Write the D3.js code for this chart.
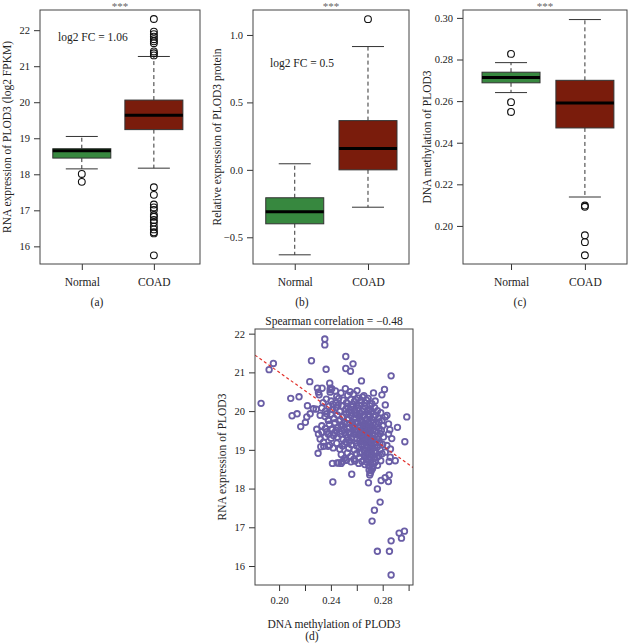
<!DOCTYPE html>
<html><head><meta charset="utf-8">
<script src="https://cdn.jsdelivr.net/npm/d3@7"></script>
<style>
body{margin:0;background:#fff}
svg{display:block}
text{font-family:"Liberation Serif","Times New Roman",serif;fill:#222}
</style>
</head><body>
<svg id="c" width="628" height="643"></svg>
<script>
// ---------------- DATA ----------------
const groups = ["Normal", "COAD"];

// (a) RNA expression of PLOD3 (log2 FPKM)
const rnaTicks = [16, 17, 18, 19, 20, 21, 22];
const rnaStats = [
  {lo: 18.15, q1: 18.45, med: 18.65, q3: 18.71, hi: 19.05},
  {lo: 18.17, q1: 19.24, med: 19.64, q3: 20.06, hi: 21.27}
];
const rnaOutNormal = [18.01, 17.79];
const rnaOutCOAD = [22.31, 21.96, 21.89, 21.82, 21.75, 21.69, 21.64, 21.41, 21.36, 21.30,
  17.64, 17.43, 17.16, 17.08, 17.01, 16.87, 16.82, 16.73, 16.66, 16.55, 16.47, 16.39, 16.36, 15.75];
const rnaFC = "log2 FC = 1.06";

// (b) Relative expression of PLOD3 protein
const protTicks = [-0.5, 0.0, 0.5, 1.0];
const protStats = [
  {lo: -0.63, q1: -0.40, med: -0.31, q3: -0.207, hi: 0.045},
  {lo: -0.277, q1: 0.0, med: 0.158, q3: 0.365, hi: 0.914}
];
const protOutNormal = [];
const protOutCOAD = [1.117];
const protFC = "log2 FC = 0.5";

// (c) DNA methylation of PLOD3
const methTicks = [0.20, 0.22, 0.24, 0.26, 0.28, 0.30];
const methStats = [
  {lo: 0.2641, q1: 0.2688, med: 0.2713, q3: 0.2739, hi: 0.2785},
  {lo: 0.2139, q1: 0.2471, med: 0.2591, q3: 0.2700, hi: 0.2992}
];
const methOutNormal = [0.2827, 0.2595, 0.2548];
const methOutCOAD = [0.2098, 0.2092, 0.1955, 0.1922, 0.1859];

// (d) scatter: DNA methylation vs RNA expression
const scatXTicks = [0.20, 0.22, 0.24, 0.26, 0.28, 0.30];
const scatXLabels = [0.20, 0.24, 0.28];
const scatYTicks = [16, 17, 18, 19, 20, 21, 22];
const spearmanText = "Spearman correlation = \u22120.48";
const fitIntercept = 25.757;
const fitSlope = -23.77;
const scatterPoints = [
  [0.1861,20.20],[0.1923,21.07],[0.1956,21.23],[0.2090,20.33],[0.2100,19.88],[0.2154,20.37],[0.2139,19.93],
  [0.2167,19.60],[0.2203,19.71],[0.2214,19.85],[0.2219,20.14],[0.2237,20.76],[0.2250,21.30],[0.2286,20.05],
  [0.2296,20.59],[0.2309,20.42],[0.2332,20.59],[0.2353,21.86],[0.2353,21.71],[0.2363,21.08],[0.2340,20.22],
  [0.2291,19.53],[0.2301,18.91],[0.2322,19.08],[0.2345,19.09],[0.2378,19.09],[0.2391,20.72],[0.2396,20.59],
  [0.2412,18.65],[0.2415,18.17],[0.2515,21.41],[0.2515,21.10],[0.2551,21.03],[0.2571,21.22],[0.2636,20.78],
  [0.2448,18.66],[0.2479,18.65],[0.2515,18.74],[0.2561,18.37],[0.2865,20.91],[0.2986,19.85],[0.2914,19.58],
  [0.2971,19.21],[0.2690,18.15],[0.2788,18.21],[0.2819,18.28],[0.2850,18.35],[0.2844,18.18],[0.2759,17.99],
  [0.2780,17.65],[0.2736,17.44],[0.2718,17.16],[0.2927,16.85],[0.2968,16.90],[0.2945,16.72],[0.2865,16.65],
  [0.2759,16.38],[0.2852,16.38],[0.2865,15.77],
  [0.2240,19.93],[0.2265,20.06],[0.2317,19.89],[0.2369,19.93],[0.2381,19.76],[0.2304,19.41],[0.2330,19.46],
  [0.2356,19.33],[0.2317,19.28],[0.2343,19.20],[0.2369,19.47],[0.2408,19.54],[0.2420,19.37],
  [0.2407,20.58],[0.2304,20.49],[0.2394,20.49],
  [0.2395,20.55],[0.2435,20.52],[0.2478,20.47],[0.2512,20.58],[0.2548,20.50],[0.2575,20.44],[0.2602,20.53],
  [0.2655,20.40],[0.2729,20.47],[0.2794,20.42],[0.2814,20.56],[0.2445,20.38],[0.2530,20.41],
  [0.2365,20.31],[0.2402,20.26],[0.2438,20.21],[0.2460,20.33],[0.2495,20.28],[0.2521,20.22],[0.2553,20.30],
  [0.2581,20.25],[0.2609,20.34],[0.2634,20.27],[0.2662,20.21],[0.2688,20.33],[0.2717,20.19],[0.2742,20.26],
  [0.2820,20.16],[0.2415,20.18],[0.2570,20.18],[0.2645,20.36],
  [0.2330,20.08],[0.2358,20.00],[0.2385,20.12],[0.2412,20.04],[0.2440,20.09],[0.2468,19.99],[0.2490,20.13],
  [0.2515,20.05],[0.2538,19.98],[0.2560,20.11],[0.2585,20.02],[0.2612,20.08],[0.2640,19.99],[0.2665,20.12],
  [0.2690,20.03],[0.2712,19.97],[0.2738,20.09],[0.2760,20.01],[0.2785,19.96],[0.2833,19.89],[0.2455,20.15],
  [0.2598,20.15],[0.2700,20.14],
  [0.2355,19.86],[0.2381,19.76],[0.2400,19.92],[0.2425,19.81],[0.2450,19.90],[0.2472,19.77],[0.2495,19.85],
  [0.2518,19.93],[0.2535,19.78],[0.2556,19.88],[0.2578,19.80],[0.2598,19.91],[0.2620,19.83],[0.2641,19.75],
  [0.2659,19.89],[0.2678,19.79],[0.2697,19.86],[0.2722,19.77],[0.2745,19.90],[0.2768,19.82],[0.2795,19.76],
  [0.2845,19.67],[0.2820,19.85],[0.2586,19.96],[0.2630,19.94],
  [0.2330,19.62],[0.2358,19.55],[0.2388,19.66],[0.2410,19.52],[0.2432,19.70],[0.2455,19.58],[0.2478,19.64],
  [0.2500,19.53],[0.2522,19.68],[0.2543,19.57],[0.2565,19.63],[0.2588,19.51],[0.2606,19.69],[0.2627,19.59],
  [0.2648,19.65],[0.2667,19.54],[0.2688,19.71],[0.2705,19.60],[0.2728,19.52],[0.2750,19.66],[0.2772,19.56],
  [0.2800,19.62],[0.2855,19.52],[0.2440,19.50],[0.2676,19.62],
  [0.2380,19.40],[0.2402,19.30],[0.2428,19.44],[0.2450,19.33],[0.2472,19.41],[0.2495,19.27],[0.2516,19.38],
  [0.2537,19.46],[0.2560,19.31],[0.2580,19.40],[0.2602,19.28],[0.2622,19.43],[0.2643,19.35],[0.2662,19.26],
  [0.2683,19.39],[0.2700,19.45],[0.2718,19.30],[0.2738,19.37],[0.2760,19.27],[0.2783,19.42],[0.2806,19.33],
  [0.2845,19.41],[0.2870,19.29],[0.2590,19.47],[0.2655,19.48],
  [0.2390,19.12],[0.2418,19.05],[0.2445,19.17],[0.2468,19.02],[0.2490,19.10],[0.2515,19.20],[0.2538,19.04],
  [0.2558,19.13],[0.2580,19.00],[0.2600,19.18],[0.2618,19.07],[0.2636,19.14],[0.2652,19.01],[0.2668,19.21],
  [0.2683,19.09],[0.2697,18.99],[0.2711,19.15],[0.2726,19.04],[0.2742,19.19],[0.2760,19.08],[0.2780,19.00],
  [0.2800,19.14],[0.2833,19.11],[0.2860,19.02],[0.2645,19.22],[0.2700,19.24],
  [0.2480,18.88],[0.2505,18.78],[0.2528,18.92],[0.2553,18.83],[0.2577,18.76],[0.2598,18.90],[0.2620,18.80],
  [0.2640,18.94],[0.2658,18.85],[0.2672,18.77],[0.2686,18.91],[0.2700,18.82],[0.2712,18.95],[0.2725,18.86],
  [0.2738,18.78],[0.2752,18.92],[0.2770,18.84],[0.2795,18.90],[0.2820,18.94],[0.2858,18.81],[0.2897,18.72],
  [0.2660,18.97],[0.2690,18.75],
  [0.2460,18.66],[0.2490,18.70],[0.2520,18.73],[0.2555,18.69],[0.2585,18.71],[0.2615,18.65],[0.2640,18.70],
  [0.2662,18.62],[0.2680,18.68],[0.2694,18.58],[0.2706,18.66],[0.2718,18.55],[0.2730,18.63],[0.2745,18.69],
  [0.2760,18.60],[0.2785,18.72],[0.2850,18.70],
  [0.2695,18.48],[0.2705,18.40],[0.2712,18.46],[0.2722,18.52],[0.2700,18.35],
  [0.2570,19.72],[0.2595,19.45],[0.2615,19.37],[0.2635,19.52],[0.2658,19.30],[0.2670,19.78],[0.2690,19.18],
  [0.2708,19.50],[0.2725,19.68],[0.2640,19.12],[0.2615,19.88],[0.2550,19.40],[0.2660,19.44],[0.2700,19.35],
  [0.2682,19.56],[0.2625,19.25],[0.2720,19.10],[0.2745,19.48],
  [0.2492,19.62],[0.2508,19.45],[0.2527,19.80],[0.2547,19.22],[0.2562,19.95],[0.2573,19.55],[0.2589,19.70],
  [0.2601,19.10],[0.2611,19.60],[0.2628,19.78],[0.2632,19.40],[0.2644,19.88],[0.2651,19.20],[0.2663,19.65],
  [0.2672,19.05],[0.2679,19.48],[0.2691,19.92],[0.2696,19.28],[0.2709,19.73],[0.2714,18.90],[0.2723,19.40],
  [0.2733,19.85],[0.2741,19.12],[0.2752,19.58],[0.2764,19.35],[0.2773,19.72],[0.2778,19.18],[0.2790,19.50],
  [0.2525,20.12],[0.2549,20.02],[0.2592,20.30],[0.2620,20.15],[0.2650,20.05],[0.2675,20.28],[0.2705,20.05],
  [0.2625,18.92],[0.2665,18.82],[0.2695,19.02],[0.2735,18.95],[0.2755,18.80],[0.2505,19.15],[0.2528,19.30],
  [0.2485,19.48],[0.2462,19.75],[0.2505,19.70],[0.2610,19.50],[0.2655,19.58],[0.2692,19.66],[0.2717,19.20],
  [0.2680,18.86]
];

// ---------------- DRAWING ----------------
const svg = d3.select("#c");
const FS = 11.5;     // titles / category labels
const TFS = 10.5;    // numeric tick labels
const fills = ["#37883f", "#7a1c0c"];

function styleAxis(g, fs) {
  g.select(".domain").remove();
  g.selectAll(".tick line").attr("stroke", "#333");
  g.selectAll(".tick text").attr("font-size", fs).attr("fill", "#222")
    .attr("font-family", "Liberation Serif, serif");
}

function boxPanel(cfg) {
  const y = d3.scaleLinear().domain(cfg.yDomain).range([cfg.bottom, cfg.top]);
  const x = d3.scaleLinear().domain(cfg.xDomain).range([cfg.left, cfg.right]);
  const g = svg.append("g");

  const ay = g.append("g").attr("transform", `translate(${cfg.left},0)`)
    .call(d3.axisLeft(y).tickValues(cfg.ticks).tickFormat(d3.format(cfg.fmt)).tickSize(6).tickPadding(4));
  styleAxis(ay, TFS);
  const ax = g.append("g").attr("transform", `translate(0,${cfg.bottom})`)
    .call(d3.axisBottom(x).tickValues([1, 2]).tickFormat(i => groups[i - 1]).tickSize(6));
  styleAxis(ax, FS);
  ax.selectAll(".tick text").attr("dy", null).attr("y", 22);

  const bw = 58, cap = 16;
  cfg.stats.forEach((s, i) => {
    const cx = x(i + 1);
    g.append("line").attr("x1", cx).attr("x2", cx).attr("y1", y(s.q3)).attr("y2", y(s.hi))
      .attr("stroke", "#333").attr("stroke-dasharray", "4,3");
    g.append("line").attr("x1", cx).attr("x2", cx).attr("y1", y(s.q1)).attr("y2", y(s.lo))
      .attr("stroke", "#333").attr("stroke-dasharray", "4,3");
    [s.hi, s.lo].forEach(v => g.append("line").attr("x1", cx - cap).attr("x2", cx + cap)
      .attr("y1", y(v)).attr("y2", y(v)).attr("stroke", "#333"));
    g.append("rect").attr("x", cx - bw / 2).attr("width", bw).attr("y", y(s.q3))
      .attr("height", y(s.q1) - y(s.q3)).attr("fill", fills[i]).attr("stroke", "#333");
    g.append("line").attr("x1", cx - bw / 2).attr("x2", cx + bw / 2).attr("y1", y(s.med)).attr("y2", y(s.med))
      .attr("stroke", "#000").attr("stroke-width", 3);
  });
  cfg.outliers.forEach((arr, i) => {
    g.selectAll(null).data(arr).enter().append("circle")
      .attr("cx", x(i + 1)).attr("cy", d => y(d)).attr("r", 3.4)
      .attr("fill", "none").attr("stroke", "#111").attr("stroke-width", 1.1);
  });

  g.append("rect").attr("x", cfg.left).attr("y", cfg.top).attr("width", cfg.right - cfg.left)
    .attr("height", cfg.bottom - cfg.top).attr("fill", "none").attr("stroke", "#444");

  g.append("text").attr("transform", `translate(${cfg.ytX},${(cfg.top + cfg.bottom) / 2}) rotate(-90)`)
    .attr("text-anchor", "middle").attr("font-size", FS).text(cfg.yTitle);
  g.append("text").attr("x", (cfg.left + cfg.right) / 2).attr("y", 10).attr("text-anchor", "middle")
    .attr("font-size", 11).style("fill", "#666").text("***");
  if (cfg.fc) g.append("text").attr("x", cfg.fcX).attr("y", cfg.fcY).attr("font-size", FS).text(cfg.fc);
  g.append("text").attr("x", cfg.capX).attr("y", 306).attr("text-anchor", "middle")
    .attr("font-size", FS).text(cfg.caption);
}

boxPanel({left: 40, right: 200, top: 10, bottom: 264, xDomain: [0.42, 2.64], yDomain: [15.51, 22.56],
  ticks: rnaTicks, fmt: "d", stats: rnaStats, outliers: [rnaOutNormal, rnaOutCOAD],
  yTitle: "RNA expression of PLOD3 (log2 FPKM)", ytX: 11, fc: rnaFC, fcX: 58, fcY: 41,
  caption: "(a)", capX: 97});

boxPanel({left: 253, right: 409, top: 10, bottom: 264, xDomain: [0.43, 2.56], yDomain: [-0.698, 1.185],
  ticks: protTicks, fmt: ".1f", stats: protStats, outliers: [protOutNormal, protOutCOAD],
  yTitle: "Relative expression of PLOD3 protein", ytX: 221, fc: protFC, fcX: 270, fcY: 67,
  caption: "(b)", capX: 302});

boxPanel({left: 463, right: 627, top: 10, bottom: 264, xDomain: [0.35, 2.57], yDomain: [0.1817, 0.3038],
  ticks: methTicks, fmt: ".2f", stats: methStats, outliers: [methOutNormal, methOutCOAD],
  yTitle: "DNA methylation of PLOD3", ytX: 431, fc: null,
  caption: "(c)", capX: 520});

// (d) scatter
(function () {
  const L = 255, R = 413, T = 329, B = 585;
  const x = d3.scaleLinear().domain([0.1814, 0.3034]).range([L, R]);
  const y = d3.scaleLinear().domain([15.51, 22.12]).range([B, T]);
  const g = svg.append("g");
  const ax = g.append("g").attr("transform", `translate(0,${B})`)
    .call(d3.axisBottom(x).tickValues(scatXTicks).tickSize(6)
      .tickFormat(d => scatXLabels.some(v => Math.abs(v - d) < 1e-9) ? d3.format(".2f")(d) : ""));
  styleAxis(ax, TFS);
  ax.selectAll(".tick text").attr("dy", null).attr("y", 19);
  const ay = g.append("g").attr("transform", `translate(${L},0)`)
    .call(d3.axisLeft(y).tickValues(scatYTicks).tickFormat(d3.format("d")).tickSize(6).tickPadding(4));
  styleAxis(ay, TFS);

  g.append("clipPath").attr("id", "clipd").append("rect").attr("x", L).attr("y", T)
    .attr("width", R - L).attr("height", B - T);

  g.append("g").selectAll("circle").data(scatterPoints).enter().append("circle")
    .attr("cx", d => x(d[0])).attr("cy", d => y(d[1])).attr("r", 2.8)
    .attr("fill", "none").attr("stroke", "#6a5ea6").attr("stroke-width", 1.8);

  const xd = x.domain();
  g.append("line").attr("clip-path", "url(#clipd)")
    .attr("x1", x(xd[0])).attr("y1", y(fitIntercept + fitSlope * xd[0]))
    .attr("x2", x(xd[1])).attr("y2", y(fitIntercept + fitSlope * xd[1]))
    .attr("stroke", "#e2302b").attr("stroke-width", 1.2).attr("stroke-dasharray", "3,2.5");

  g.append("rect").attr("x", L).attr("y", T).attr("width", R - L).attr("height", B - T)
    .attr("fill", "none").attr("stroke", "#444");

  g.append("text").attr("x", (L + R) / 2).attr("y", 325).attr("text-anchor", "middle")
    .attr("font-size", FS).text(spearmanText);
  g.append("text").attr("x", (L + R) / 2).attr("y", 628).attr("text-anchor", "middle")
    .attr("font-size", FS).text("DNA methylation of PLOD3");
  g.append("text").attr("transform", `translate(226,${(T + B) / 2}) rotate(-90)`)
    .attr("text-anchor", "middle").attr("font-size", FS).text("RNA expression of PLOD3");
  g.append("text").attr("x", 312).attr("y", 640).attr("text-anchor", "middle")
    .attr("font-size", FS).text("(d)");
})();
</script>
</body></html>
